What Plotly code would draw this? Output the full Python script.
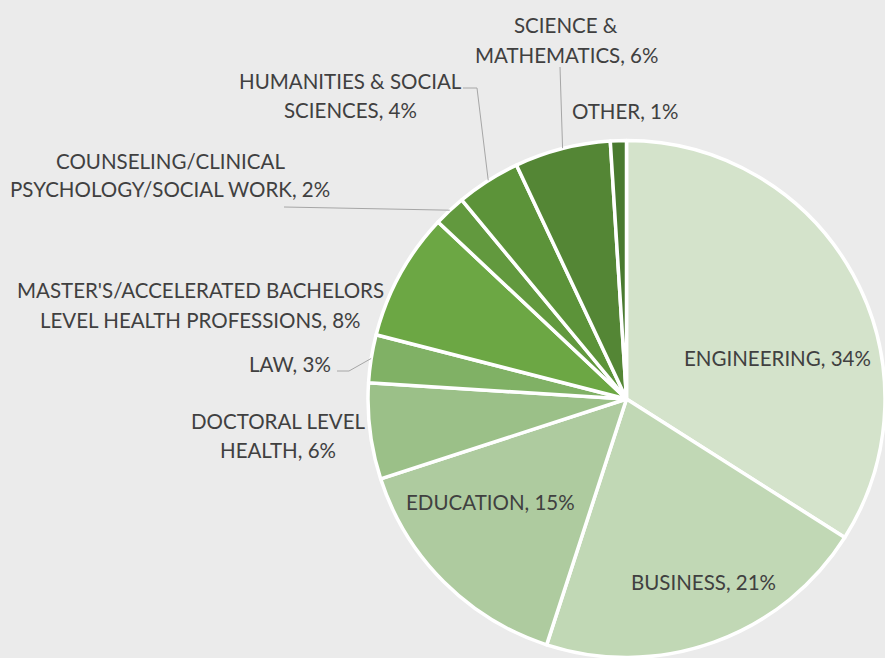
import math
import plotly.graph_objects as go

# ---- data ----
categories = [
    "ENGINEERING", "BUSINESS", "EDUCATION", "DOCTORAL LEVEL HEALTH", "LAW",
    "MASTER'S/ACCELERATED BACHELORS LEVEL HEALTH PROFESSIONS",
    "COUNSELING/CLINICAL PSYCHOLOGY/SOCIAL WORK", "HUMANITIES & SOCIAL SCIENCES",
    "SCIENCE & MATHEMATICS", "OTHER",
]
values = [34, 21, 15, 6, 3, 8, 2, 4, 6, 1]
label_lines = [
    ["ENGINEERING, 34%"], ["BUSINESS, 21%"], ["EDUCATION, 15%"],
    ["DOCTORAL LEVEL", "HEALTH, 6%"], ["LAW, 3%"],
    ["MASTER'S/ACCELERATED BACHELORS", "LEVEL HEALTH PROFESSIONS, 8%"],
    ["COUNSELING/CLINICAL", "PSYCHOLOGY/SOCIAL WORK, 2%"],
    ["HUMANITIES & SOCIAL", "SCIENCES, 4%"],
    ["SCIENCE &", "MATHEMATICS, 6%"], ["OTHER, 1%"],
]
colors = ["#D4E3CB", "#C1D8B5", "#AECB9F", "#9BC088", "#80B165",
          "#6CA744", "#62993E", "#5C9339", "#548635", "#497A2F"]

# ---- layout (pixels) ----
W, H = 885, 658
CX, CY, R = 627, 399, 259
BG = "#EBEBEB"
TXT = "#404040"
FONT = "Lato"
FS = 20.5
LINE_H = 29

def px(x, y):
    return x / W, 1 - y / H

# label centre positions (pixel space) per category index
label_pos = {
    0: (777, 358), 1: (703, 582), 2: (490, 502), 3: (278, 435), 4: (290, 364),
    5: (200, 305), 6: (170, 175), 7: (350, 95), 8: (566, 40), 9: (625, 111),
}
# leader elbow points (pixel), pie end computed from data
leaders = {
    8: [(560, 67)],
    7: [(463, 88), (477, 88)],
    6: [(284, 207)],
    4: [(337, 371), (349, 371)],
}

fig = go.Figure(go.Pie(
    labels=categories, values=values, sort=False, direction="clockwise",
    rotation=0, textinfo="none", hoverinfo="label+percent",
    marker=dict(colors=colors, line=dict(color="white", width=3.5)),
    domain=dict(x=[(CX - R) / W, min(1.0, (CX + R) / W)],
                y=[1 - (CY + R) / H, 1 - (CY - R) / H]),
    showlegend=False,
))

total = sum(values)
cum = 0
mid_angles = []
for v in values:
    mid_angles.append((cum + v / 2) / total * 2 * math.pi)
    cum += v

annotations = []
for i, lines in enumerate(label_lines):
    x, y = label_pos[i]
    n = len(lines)
    for k, t in enumerate(lines):
        yy = y + (k - (n - 1) / 2) * LINE_H
        ax, ay = px(x, yy)
        annotations.append(dict(
            x=ax, y=ay, xref="paper", yref="paper", text=t, showarrow=False,
            xanchor="center", yanchor="middle", align="center",
            font=dict(family=FONT, size=FS, color=TXT),
        ))

shapes = []
for i, pts in leaders.items():
    a = mid_angles[i]
    end = (CX + R * math.sin(a), CY - R * math.cos(a))
    path_pts = pts + [end]
    for p0, p1 in zip(path_pts[:-1], path_pts[1:]):
        x0, y0 = px(*p0)
        x1, y1 = px(*p1)
        shapes.append(dict(type="line", xref="paper", yref="paper",
                           x0=x0, y0=y0, x1=x1, y1=y1,
                           line=dict(color="#A6A6A6", width=1)))

fig.update_layout(
    width=W, height=H, margin=dict(l=0, r=0, t=0, b=0),
    paper_bgcolor=BG, plot_bgcolor=BG,
    annotations=annotations, shapes=shapes,
)
fig.write_html("out.html", config={"displayModeBar": False},
               post_script="document.body.style.margin='0';document.body.style.overflow='hidden';")
